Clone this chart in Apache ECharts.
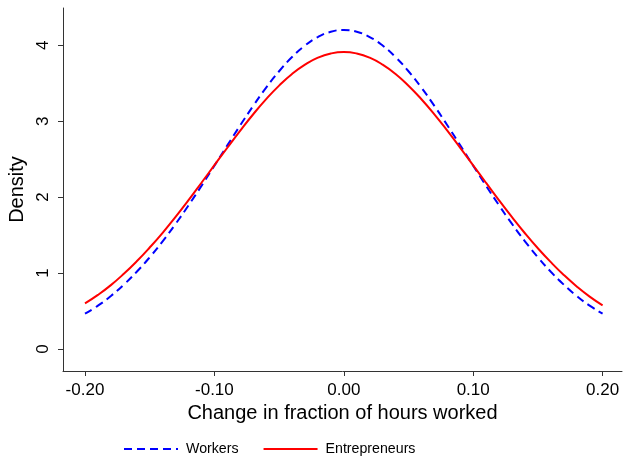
<!DOCTYPE html>
<html><head><meta charset="utf-8">
<script src="https://cdn.jsdelivr.net/npm/echarts@6/dist/echarts.min.js"></script>
<style>html,body{margin:0;padding:0;background:#fff}#c{width:624px;height:456px}</style>
</head><body><div id="c"></div>
<script>
const xValues = [-0.20,-0.19,-0.18,-0.17,-0.16,-0.15,-0.14,-0.13,-0.12,-0.11,-0.10,-0.09,-0.08,-0.07,-0.06,-0.05,-0.04,-0.03,-0.02,-0.01,0.00,
  0.01,0.02,0.03,0.04,0.05,0.06,0.07,0.08,0.09,0.10,0.11,0.12,0.13,0.14,0.15,0.16,0.17,0.18,0.19,0.20];
const workers = [0.465,0.570,0.698,0.847,1.017,1.208,1.418,1.647,1.891,2.148,2.413,2.681,2.946,3.201,3.441,3.657,3.844,3.996,4.108,4.177,4.200,
  4.177,4.108,3.996,3.844,3.657,3.441,3.201,2.946,2.681,2.413,2.148,1.891,1.647,1.418,1.208,1.017,0.847,0.698,0.570,0.465];
const entrepreneurs = [0.600,0.712,0.841,0.990,1.155,1.336,1.530,1.740,1.960,2.189,2.420,2.650,2.876,3.091,3.290,3.468,3.622,3.744,3.836,3.891,3.910,
  3.891,3.836,3.744,3.621,3.467,3.289,3.090,2.875,2.649,2.418,2.186,1.957,1.736,1.524,1.326,1.143,0.975,0.824,0.690,0.575];
const xTicks = [-0.2,-0.1,0,0.1,0.2];
const yTicks = [0,1,2,3,4];
const seriesNames = ['Workers','Entrepreneurs'];

const font = 'Liberation Sans, Arial, sans-serif';
const chart = echarts.init(document.getElementById('c'), null, {renderer:'canvas'});
const axisLine = {show:true, onZero:false, lineStyle:{color:'#333', width:1}};
chart.setOption({
  animation:false,
  grid:{left:63, right:2, top:8, bottom:85, containLabel:false, outerBoundsMode:'none'},
  xAxis:{type:'value', min:-0.217, max:0.215,
    axisLine:axisLine, splitLine:{show:false},
    axisTick:{show:true, customValues:xTicks, length:5, lineStyle:{color:'#333'}},
    axisLabel:{customValues:xTicks, formatter:v=>v.toFixed(2), fontFamily:font, fontSize:17, color:'#000', margin:11},
    name:'Change in fraction of hours worked', nameLocation:'middle', nameGap:26,
    nameTextStyle:{fontFamily:font, fontSize:20, color:'#000'}},
  yAxis:{type:'value', min:-0.29, max:4.49,
    axisLine:axisLine, splitLine:{show:false},
    axisTick:{show:true, customValues:yTicks, length:5, lineStyle:{color:'#333'}},
    axisLabel:{customValues:yTicks, rotate:90, fontFamily:font, fontSize:17, color:'#000', margin:11},
    name:'Density', nameLocation:'middle', nameGap:35,
    nameTextStyle:{fontFamily:font, fontSize:20, color:'#000'}},
  legend:{bottom:-5, left:118, itemWidth:54, itemHeight:10, itemGap:24,
    itemStyle:{opacity:0},
    textStyle:{fontFamily:font, fontSize:14.2, color:'#000', padding:[0,0,0,3]},
    data:seriesNames},
  series:[
    {name:seriesNames[0], type:'line', smooth:true, symbol:'none',
      data:xValues.map((x,i)=>[x,workers[i]]),
      lineStyle:{color:'#0000ff', width:2, type:[8,5]}, itemStyle:{color:'#0000ff'}},
    {name:seriesNames[1], type:'line', smooth:true, symbol:'none',
      data:xValues.map((x,i)=>[x,entrepreneurs[i]]),
      lineStyle:{color:'#ff0000', width:2}, itemStyle:{color:'#ff0000'}}
  ]
});
</script></body></html>
